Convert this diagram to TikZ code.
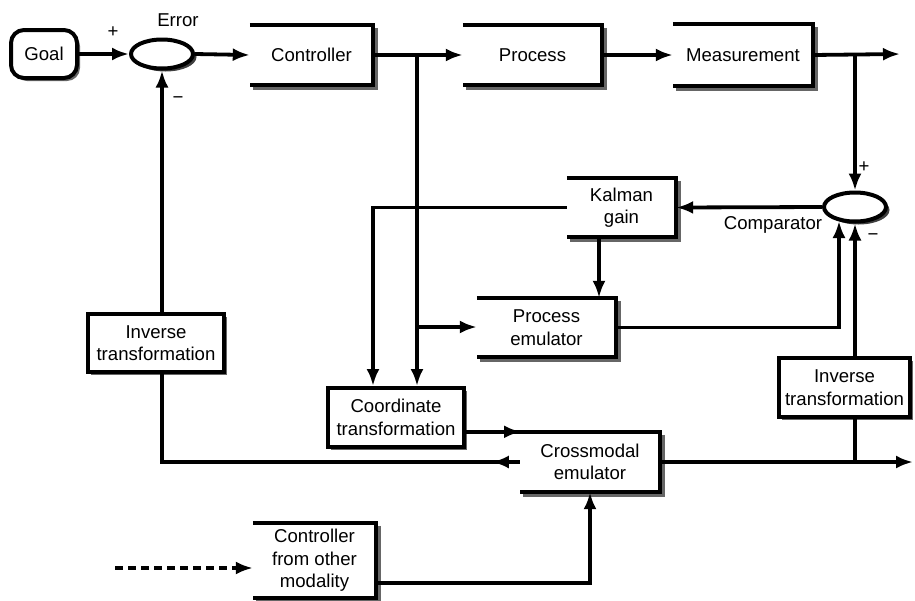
\documentclass[tikz,border=0pt]{standalone}
\usepackage{fontspec}
\setmainfont{Liberation Sans}
\usetikzlibrary{arrows.meta,shapes.geometric,shadows}
\begin{document}
\begin{tikzpicture}[x=1pt,y=-1pt,
  every node/.style={font=\fontsize{18.6}{22.5}\selectfont, align=center, inner sep=0pt},
  openbox/.style={minimum width=#1},
  fullbox/.style={draw, line width=4pt, fill=white, minimum width=#1,
    drop shadow={shadow xshift=3pt, shadow yshift=-3pt, fill=black!60, opacity=1}},
  sumnode/.style={ellipse, draw, line width=4pt, fill=white, minimum width=62, minimum height=29,
    drop shadow={shadow xshift=3.5pt, shadow yshift=-3pt, fill=black!75, opacity=1}},
  conn/.style={line width=3.8pt},
  arr/.style={conn, -{Latex[length=17pt,width=13pt]}},
  lbl/.style={font=\fontsize{18.6}{22}\selectfont}
]
\useasboundingbox (0,0) rectangle (915,600);

% nodes
\node[fullbox=66, minimum height=48, rounded corners=13pt] (goal) at (44,54) {Goal};
\node[sumnode] (err) at (162,54) {};
\node[openbox=123, minimum height=60] (ctrl) at (311.5,55) {Controller};
\node[openbox=139, minimum height=60] (proc) at (532.5,55) {Process};
\node[openbox=140, minimum height=61] (meas) at (743,55) {Measurement};
\node[sumnode] (cmp) at (855,207) {};
\node[openbox=109, minimum height=59] (kal) at (621.5,207.5) {Kalman\\gain};
\node[openbox=139, minimum height=59] (pem) at (546.5,327.5) {Process\\emulator};
\node[fullbox=136, minimum height=58] (inv1) at (156,343) {Inverse\\transformation};
\node[fullbox=136, minimum height=59] (coord) at (396,417.5) {Coordinate\\transformation};
\node[openbox=140, minimum height=60] (cross) at (590,462) {Crossmodal\\emulator};
\node[fullbox=131, minimum height=59] (inv2) at (844.5,387.5) {Inverse\\transformation};
\node[openbox=123, minimum height=75] (cother) at (314.5,560.5) {Controller\\from other\\modality};

% open box edges
\foreach \n in {ctrl,proc,meas,kal,pem,cross,cother}{
  \draw[black!60, line width=4pt] ([shift={(3,3)}]\n.north east) -- ([shift={(3,3)}]\n.south east) -- ([shift={(3,3)}]\n.south west);
  \draw[line width=4pt] (\n.north west) -- (\n.north east) -- (\n.south east) -- (\n.south west);
}

% labels
\node[lbl] (lerr) at (178,20) {Error};
\node[lbl] (lp1) at (113,32) {+};
\node[lbl] (lm1) at (178,100) {−};
\node[lbl] (lp2) at (864,167) {+};
\node[lbl] (lm2) at (873,237) {−};
\node[lbl] (lcmp) at (773,225) {Comparator};

% helper coordinates
\coordinate (xa) at (417,0);
\coordinate (xb) at (373,0);
\coordinate (xk) at (599,0);
\coordinate (xc) at (839,0);
\coordinate (xm) at (855,0);
\coordinate (xi) at (162,0);
\coordinate (xo) at (590,0);
\coordinate (out1) at (900,54);
\coordinate (out2) at (913,462);
\coordinate (dstart) at (115,568);
\coordinate (yp) at (0,327);
\coordinate (yo) at (0,583);

% connectors
\draw[arr] (goal.east) -- (err.west);
\draw[arr] (err.east) -- (ctrl.west);
\draw[arr] (ctrl.east) -- (proc.west);
\draw[arr] (proc.east) -- (meas.west);
\draw[arr] (meas.east) -- (out1);
\draw[arr] (xm |- meas.east) -- (cmp.north);
\draw[arr] (cmp.west) -- (kal.east);
\draw[arr] (kal.west) -- (xb |- kal.west) -- (xb |- coord.north);
\draw[arr] (xa |- ctrl.east) -- (xa |- coord.north);
\draw[arr] (xa |- yp) -- (pem.west |- yp);
\draw[arr] (xk |- kal.south) -- (xk |- pem.north);
\draw[arr] (pem.east) -- (xc |- pem.east) -- (839,221);
\draw[arr] (xm |- inv2.north) -- (xm |- cmp.south);
\draw[arr] (xi |- inv1.north) -- (xi |- err.south);
\draw[conn] (cross.west) -- (xi |- cross.west) -- (xi |- inv1.south);
\draw[arr] (cross.west) -- ++(-28,0);
\draw[conn] (coord.east |- cross.north west) -- (cross.north west);
\draw[arr] (coord.east |- cross.north west) -- ++(55,0);
\draw[arr] (cross.east) -- (out2);
\draw[conn] (xm |- cross.east) -- (xm |- inv2.south);
\draw[arr, line width=3.2pt, dash pattern=on 8pt off 5pt] (dstart) -- (cother.west |- dstart);
\draw[arr] (cother.east |- yo) -- (xo |- yo) -- (xo |- cross.south);
\end{tikzpicture}
\end{document}
